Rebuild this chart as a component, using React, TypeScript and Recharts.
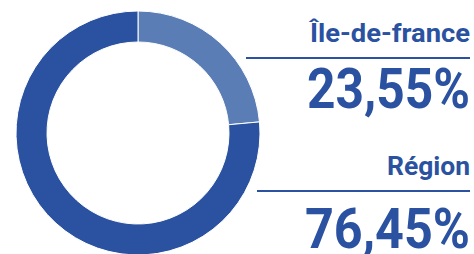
import { useLayoutEffect, useRef, useState } from "react";
import { PieChart, Pie, Cell } from "recharts";

const LABELS = ["Île-de-france", "Région"];
const VALUES = [23.55, 76.45];
const COLORS = ["#5b7db6", "#2a52a0"];
const TEXT_COLOR = "#2a52a0";

const data = LABELS.map((name, i) => ({ name, value: VALUES[i] }));
const fmt = (v: number) => v.toFixed(2).replace(".", ",") + "%";

// right-aligned text squeezed/stretched horizontally to a given width
function FitText({ x, y, width, fontSize, children }: { x: number; y: number; width: number; fontSize: number; children: string }) {
  const ref = useRef<SVGTextElement>(null);
  const [sx, setSx] = useState(1);
  useLayoutEffect(() => {
    const measure = () => {
      const el = ref.current;
      if (!el) return;
      const w = el.getComputedTextLength();
      if (w > 0) setSx(width / w);
    };
    measure();
    document.fonts?.ready.then(measure);
  }, [width]);
  return (
    <text ref={ref} transform={`translate(${x},${y}) scale(${sx},1)`} textAnchor="end" fontSize={fontSize}>
      {children}
    </text>
  );
}

export default function App() {
  return (
    <div style={{ position: "absolute", left: 0, top: 0, width: 474, height: 254 }}>
      <PieChart width={474} height={254} margin={{ top: 0, right: 0, bottom: 0, left: 0 }}>
        <Pie
          data={data}
          dataKey="value"
          nameKey="name"
          cx={138}
          cy={133}
          innerRadius={91}
          outerRadius={122}
          startAngle={90}
          endAngle={-270}
          stroke="#ffffff"
          strokeWidth={1}
          isAnimationActive={false}
        >
          {data.map((_, i) => (
            <Cell key={i} fill={COLORS[i]} />
          ))}
        </Pie>
      </PieChart>
      <svg
        width={474}
        height={254}
        style={{ position: "absolute", left: 0, top: 0, pointerEvents: "none" }}
        fontFamily="Roboto"
        fontWeight="bold"
        fill={TEXT_COLOR}
      >
        <FitText x={470} y={42} width={160} fontSize={26}>
          {LABELS[0]}
        </FitText>
        <line x1={246} x2={470} y1={58} y2={58} stroke={TEXT_COLOR} strokeWidth={2} />
        <FitText x={470} y={108} width={163} fontSize={56}>
          {fmt(VALUES[0])}
        </FitText>
        <FitText x={470} y={175} width={83} fontSize={26}>
          {LABELS[1]}
        </FitText>
        <line x1={257} x2={470} y1={191} y2={191} stroke={TEXT_COLOR} strokeWidth={2} />
        <FitText x={470} y={248} width={165} fontSize={56}>
          {fmt(VALUES[1])}
        </FitText>
      </svg>
    </div>
  );
}
